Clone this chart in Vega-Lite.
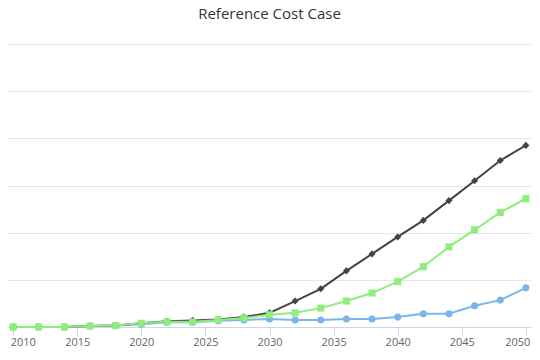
{
  "$schema": "https://vega.github.io/schema/vega-lite/v6.json",
  "width": 523,
  "height": 283,
  "autosize": {"type": "none"},
  "padding": {"left": 8, "top": 44, "right": 9, "bottom": 33},
  "background": "white",
  "title": {"text": "Reference Cost Case", "fontSize": 15, "font": "Open Sans", "fontWeight": "normal", "color": "#333333", "anchor": "middle", "offset": 22},
  "config": {"view": {"stroke": null}},
  "data": {"values": [
    {"year": 2010, "series": "A", "value": 0}, {"year": 2012, "series": "A", "value": 0}, {"year": 2014, "series": "A", "value": 0}, {"year": 2016, "series": "A", "value": 0.02}, {"year": 2018, "series": "A", "value": 0.03}, {"year": 2020, "series": "A", "value": 0.06}, {"year": 2022, "series": "A", "value": 0.1}, {"year": 2024, "series": "A", "value": 0.1}, {"year": 2026, "series": "A", "value": 0.13}, {"year": 2028, "series": "A", "value": 0.15}, {"year": 2030, "series": "A", "value": 0.17}, {"year": 2032, "series": "A", "value": 0.15}, {"year": 2034, "series": "A", "value": 0.15}, {"year": 2036, "series": "A", "value": 0.17}, {"year": 2038, "series": "A", "value": 0.17}, {"year": 2040, "series": "A", "value": 0.21}, {"year": 2042, "series": "A", "value": 0.28}, {"year": 2044, "series": "A", "value": 0.28}, {"year": 2046, "series": "A", "value": 0.45}, {"year": 2048, "series": "A", "value": 0.57}, {"year": 2050, "series": "A", "value": 0.83},
    {"year": 2010, "series": "B", "value": 0}, {"year": 2012, "series": "B", "value": 0}, {"year": 2014, "series": "B", "value": 0}, {"year": 2016, "series": "B", "value": 0.02}, {"year": 2018, "series": "B", "value": 0.03}, {"year": 2020, "series": "B", "value": 0.08}, {"year": 2022, "series": "B", "value": 0.12}, {"year": 2024, "series": "B", "value": 0.14}, {"year": 2026, "series": "B", "value": 0.16}, {"year": 2028, "series": "B", "value": 0.21}, {"year": 2030, "series": "B", "value": 0.3}, {"year": 2032, "series": "B", "value": 0.55}, {"year": 2034, "series": "B", "value": 0.81}, {"year": 2036, "series": "B", "value": 1.19}, {"year": 2038, "series": "B", "value": 1.55}, {"year": 2040, "series": "B", "value": 1.91}, {"year": 2042, "series": "B", "value": 2.26}, {"year": 2044, "series": "B", "value": 2.68}, {"year": 2046, "series": "B", "value": 3.1}, {"year": 2048, "series": "B", "value": 3.53}, {"year": 2050, "series": "B", "value": 3.85},
    {"year": 2010, "series": "C", "value": 0}, {"year": 2012, "series": "C", "value": 0}, {"year": 2014, "series": "C", "value": 0}, {"year": 2016, "series": "C", "value": 0.02}, {"year": 2018, "series": "C", "value": 0.03}, {"year": 2020, "series": "C", "value": 0.08}, {"year": 2022, "series": "C", "value": 0.11}, {"year": 2024, "series": "C", "value": 0.11}, {"year": 2026, "series": "C", "value": 0.15}, {"year": 2028, "series": "C", "value": 0.19}, {"year": 2030, "series": "C", "value": 0.26}, {"year": 2032, "series": "C", "value": 0.3}, {"year": 2034, "series": "C", "value": 0.4}, {"year": 2036, "series": "C", "value": 0.55}, {"year": 2038, "series": "C", "value": 0.72}, {"year": 2040, "series": "C", "value": 0.96}, {"year": 2042, "series": "C", "value": 1.28}, {"year": 2044, "series": "C", "value": 1.7}, {"year": 2046, "series": "C", "value": 2.06}, {"year": 2048, "series": "C", "value": 2.43}, {"year": 2050, "series": "C", "value": 2.72}
  ]},
  "encoding": {
    "x": {"field": "year", "type": "quantitative", "scale": {"domain": [2009.6, 2050.4], "nice": false, "zero": false},
      "axis": {"title": null, "values": [2010, 2015, 2020, 2025, 2030, 2035, 2040, 2045, 2050], "format": "d", "grid": false, "domainColor": "#ccd6eb", "tickColor": "#ccd6eb", "tickSize": 8, "labelFont": "Open Sans", "labelFontSize": 11, "labelColor": "#666666", "labelPadding": 1,
        "labelAlign": {"condition": [{"test": "datum.value == 2010", "value": "left"}, {"test": "datum.value == 2050", "value": "right"}], "value": "center"},
        "labelOffset": {"condition": [{"test": "datum.value == 2010", "value": -3}, {"test": "datum.value == 2050", "value": 4}], "value": 0}}},
    "y": {"field": "value", "type": "quantitative", "scale": {"domain": [0, 6], "nice": false},
      "axis": {"title": null, "values": [1, 2, 3, 4, 5, 6], "labels": false, "ticks": false, "domain": false, "grid": true, "gridColor": "#e6e6e6", "gridWidth": 1}},
    "color": {"field": "series", "type": "nominal", "scale": {"domain": ["A", "B", "C"], "range": ["#7cb5ec", "#434348", "#90ed7d"]}, "legend": null}
  },
  "layer": [
    {"mark": {"type": "line", "strokeWidth": 2}},
    {"mark": {"type": "point", "filled": true, "opacity": 1, "size": 50},
      "encoding": {"shape": {"field": "series", "type": "nominal", "scale": {"domain": ["A", "B", "C"], "range": ["circle", "diamond", "square"]}, "legend": null}}}
  ]
}
